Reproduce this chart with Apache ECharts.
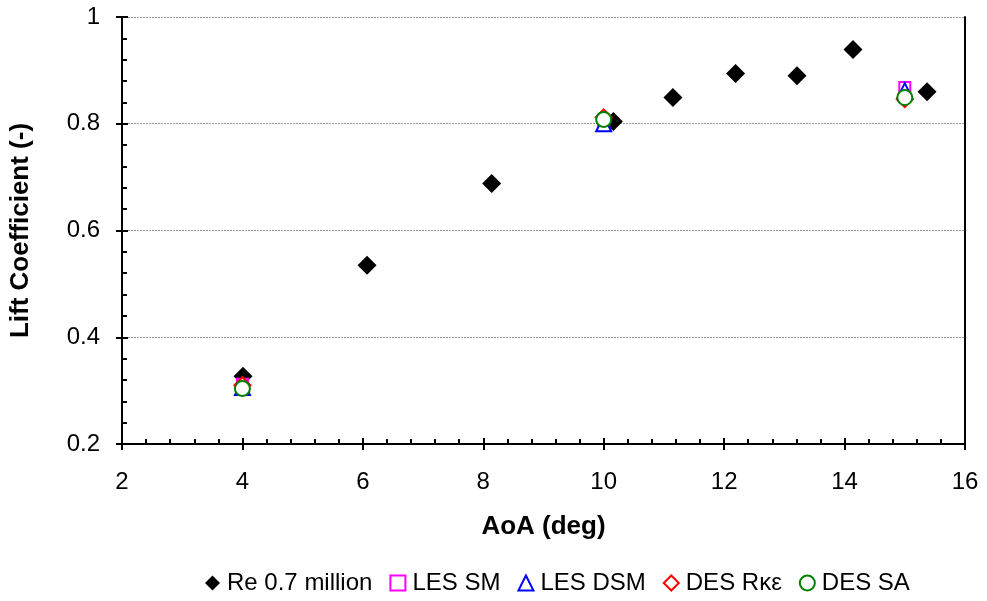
<!DOCTYPE html>
<html>
<head>
<meta charset="utf-8">
<script src="https://cdn.jsdelivr.net/npm/echarts@6/dist/echarts.min.js"></script>
<style>
  html, body { margin: 0; padding: 0; background: #fff; }
  #main { width: 987px; height: 601px; }
</style>
</head>
<body>
<div id="main"></div>
<script>
// data
var aoaExp = [4.01, 6.07, 8.14, 10.16, 11.15, 12.19, 13.21, 14.14, 15.37];
var clExp = [0.327, 0.535, 0.688, 0.804, 0.849, 0.894, 0.890, 0.939, 0.860];

var aoaSim = [4, 10, 15];
var clLesSm = [0.312, 0.802, 0.868];
var clLesDsm = [0.306, 0.800, 0.862];
var clDesRke = [0.310, 0.812, 0.846];
var clDesSa = [0.304, 0.808, 0.849];

var names = ['Re 0.7 million', 'LES SM', 'LES DSM', 'DES R\u03ba\u03b5', 'DES SA'];

function pairs(xs, ys) {
    var out = [];
    for (var i = 0; i < xs.length; i++) out.push([xs[i], ys[i]]);
    return out;
}

var font = 'Arial, "Liberation Sans", sans-serif';

function hollow(name, symbol, size, color, ys) {
    return {
        name: name,
        type: 'scatter',
        symbol: symbol,
        symbolSize: size,
        data: pairs(aoaSim, ys),
        itemStyle: { color: '#fff', borderColor: color, borderWidth: 2, opacity: 1 },
        emphasis: { disabled: true }
    };
}

var myChart = echarts.init(document.getElementById('main'));
var option = {
    backgroundColor: '#fff',
    animation: false,
    grid: { left: 122, right: 22, top: 17, bottom: 157 },
    legend: {
        bottom: 1,
        left: 200,
        itemWidth: 15,
        itemHeight: 15,
        itemGap: 17,
        textStyle: { fontFamily: font, fontSize: 24, color: '#000', padding: [0, 0, 0, 2] },
        data: names
    },
    xAxis: [{
        type: 'value',
        min: 2, max: 16, interval: 2,
        position: 'bottom',
        name: 'AoA (deg)',
        nameLocation: 'middle',
        nameGap: 70,
        nameTextStyle: { fontFamily: font, fontSize: 26, fontWeight: 'bold', color: '#000' },
        axisLine: { lineStyle: { color: '#000', width: 2 } },
        axisTick: { show: true, inside: false, length: 6, lineStyle: { color: '#000', width: 2 } },
        axisLabel: { fontFamily: font, fontSize: 24, color: '#000', margin: 26 },
        splitLine: { show: false }
    }, {
        type: 'value',
        min: 2, max: 16, interval: 2,
        position: 'bottom',
        axisLine: { show: false },
        axisTick: { show: true, inside: true, length: 6, lineStyle: { color: '#000', width: 2 } },
        minorTick: { show: true, splitNumber: 5, length: 5, lineStyle: { color: '#000', width: 2 } },
        axisLabel: { show: false },
        splitLine: { show: false }
    }],
    yAxis: [{
        type: 'value',
        min: 0.2, max: 1, interval: 0.2,
        position: 'left',
        name: 'Lift Coefficient (-)',
        nameLocation: 'middle',
        nameGap: 88,
        nameTextStyle: { fontFamily: font, fontSize: 26, fontWeight: 'bold', color: '#000' },
        axisLine: { lineStyle: { color: '#000', width: 2 } },
        axisTick: { show: true, inside: false, length: 6, lineStyle: { color: '#000', width: 2 } },
        axisLabel: { fontFamily: font, fontSize: 24, color: '#000', margin: 22,
            formatter: function (v) { return String(Math.round(v * 10) / 10); } },
        splitLine: { show: true, lineStyle: { color: '#999', width: 1, type: [2, 1] } }
    }, {
        type: 'value',
        min: 0.2, max: 1, interval: 0.2,
        position: 'left',
        axisLine: { show: false },
        axisTick: { show: true, inside: true, length: 6, lineStyle: { color: '#000', width: 2 } },
        minorTick: { show: true, splitNumber: 5, length: 5, lineStyle: { color: '#000', width: 2 } },
        axisLabel: { show: false },
        splitLine: { show: false }
    }, {
        type: 'value',
        min: 0.2, max: 1,
        position: 'right',
        axisLine: { show: true, lineStyle: { color: '#000', width: 2 } },
        axisTick: { show: false },
        axisLabel: { show: false },
        splitLine: { show: false }
    }],
    series: [
        {
            name: names[0],
            type: 'scatter',
            symbol: 'diamond',
            symbolSize: 19,
            data: pairs(aoaExp, clExp),
            itemStyle: { color: '#000', opacity: 1 },
            emphasis: { disabled: true }
        },
        hollow(names[1], 'rect', 11, '#ff00ff', clLesSm),
        hollow(names[2], 'triangle', 15, '#0000ff', clLesDsm),
        hollow(names[3], 'diamond', 16, '#ff0000', clDesRke),
        hollow(names[4], 'circle', 15, '#008000', clDesSa)
    ]
};
myChart.setOption(option);
</script>
</body>
</html>
